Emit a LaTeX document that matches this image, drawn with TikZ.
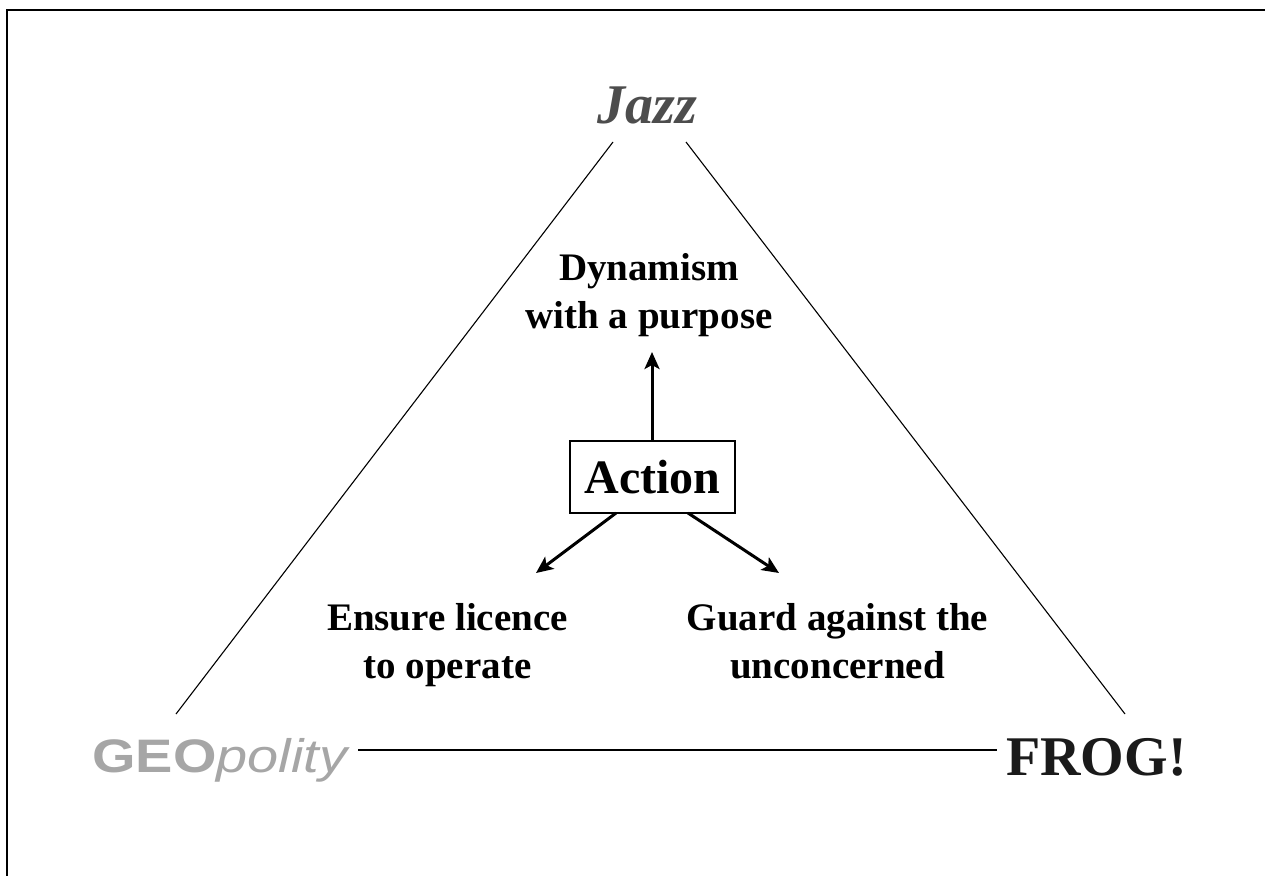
\documentclass[tikz,border=0pt]{standalone}
\usepackage{fontspec}
\usepackage{graphicx}
\setmainfont{Liberation Serif}
\newfontfamily\arialfont{Liberation Sans}
\usetikzlibrary{arrows.meta}
\definecolor{jazzgray}{HTML}{4D4D4D}
\definecolor{geogray}{HTML}{A6A6A6}
\definecolor{froggray}{HTML}{1A1A1A}
\tikzset{
  side/.style={line width=1.1pt, black},
  label39/.style={inner sep=0pt, anchor=base, align=center, font=\fontsize{39}{48}\selectfont\bfseries},
  arr/.style={line width=3pt, -{Stealth[length=17pt,width=15pt,inset=4pt]}},
  actionbox/.style={draw, line width=1.2pt, minimum width=165pt, minimum height=72pt, inner sep=0pt, font=\fontsize{48}{56}\selectfont\bfseries}
}
\begin{document}
\begin{tikzpicture}[x=1pt,y=-1pt]
\useasboundingbox (0,0) rectangle (1265,875);
% frame (left and top only visible)
\draw[line width=2pt] (7,876) -- (7,9.7) -- (1266,9.7);

% corner labels
\node[inner sep=0pt, anchor=base, text=jazzgray, font=\fontsize{56}{60}\selectfont\bfseries\itshape] (jazz) at (647.5,123) {Jazz};
\node[inner sep=0pt, anchor=base west, text=geogray] (geo) at (92,772) {\scalebox{1.19}[1]{\fontsize{47}{52}\selectfont\arialfont\bfseries GEO\mdseries\itshape polity}};
\node[inner sep=0pt, anchor=base west, text=froggray, font=\fontsize{56}{60}\selectfont\bfseries] (frog) at (1006,775) {FROG!};

% triangle sides
\coordinate (jl) at (613,142);
\coordinate (jr) at (686,142);
\coordinate (gl) at (176,714);
\coordinate (fr) at (1125,714);
\coordinate (gh) at (358,750);
\coordinate (fh) at (997,750);
\draw[side] (jl) -- (gl);
\draw[side] (jr) -- (fr);
\draw[side] (gh) -- (fh);

% centre
\node[actionbox] (action) at (652.5,477) {Action};
\node[label39] (dyn) at (649,328) {Dynamism\\with a purpose};
\node[label39] (ens) at (447.5,678) {Ensure licence\\to operate};
\node[label39] (grd) at (837.5,678) {Guard against the\\unconcerned};

\coordinate (upstart) at (652,441);
\coordinate (uptip) at (652,352);
\coordinate (lstart) at (616,513);
\coordinate (ltip) at (536,573);
\coordinate (rstart) at (688,513);
\coordinate (rtip) at (779,573);
\draw[arr] (upstart) -- (uptip);
\draw[arr] (lstart) -- (ltip);
\draw[arr] (rstart) -- (rtip);
\end{tikzpicture}
\end{document}
